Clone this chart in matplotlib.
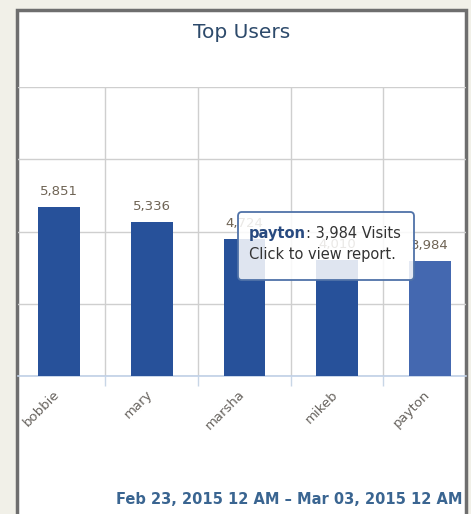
import matplotlib.pyplot as plt
from matplotlib.patches import Rectangle, FancyBboxPatch

# datos
usuarios = ['bobbie', 'mary', 'marsha', 'mikeb', 'payton']
visitas = [5851, 5336, 4724, 4010, 3984]
etiquetas = ['5,851', '5,336', '4,724', '4,010', '3,984']
ticks_y = [0, 2500, 5000, 7500, 10000]

W, H = 471, 514
fig = plt.figure(figsize=(W / 100, H / 100), dpi=100)
fig.patch.set_facecolor('#f1f0e8')


def px(x, y):
    """pixeles (desde arriba a la izquierda) -> fraccion de figura"""
    return x / W, 1 - y / H


# panel blanco con borde
x0, y0 = px(17, 10)
panel = Rectangle((x0, -0.05), px(466, 0)[0] - x0, y0 + 0.05,
                  transform=fig.transFigure, facecolor='white',
                  edgecolor='#6e6e6e', lw=2.5, zorder=0)
fig.patches.append(panel)

# ejes
izq, arr = px(18, 87)
der, aba = px(466, 376)
ax = fig.add_axes([izq, aba, der - izq, arr - aba])
ax.set_facecolor('none')
ax.set_zorder(1)

pos = list(range(len(usuarios)))
colores = ['#27519a'] * 4 + ['#4468b0']
ax.bar(pos, visitas, width=0.45, color=colores, zorder=3)

ax.set_xlim(-0.442, 4.39)
ax.set_ylim(0, 10000)
ax.set_yticks(ticks_y)
ax.yaxis.grid(True, color='#cfcfcf', lw=1)
ax.set_xticks([p + 0.5 for p in pos[:-1]], minor=True)
ax.xaxis.grid(True, which='minor', color='#cfcfcf', lw=1)
ax.set_axisbelow(True)
ax.tick_params(axis='y', left=False, labelleft=False)
ax.tick_params(axis='x', which='major', bottom=False, labelbottom=False)
ax.tick_params(axis='x', which='minor', length=7, color='#c8d6e6', width=1)
for lado in ['top', 'left', 'right']:
    ax.spines[lado].set_visible(False)
ax.spines['bottom'].set_color('#c0d0e6')
ax.spines['bottom'].set_linewidth(1.2)

# etiquetas de datos
for p, v, t in zip(pos, visitas, etiquetas):
    ax.annotate(t, (p, v), xytext=(0, 9), textcoords='offset pixels',
                ha='center', va='bottom', fontsize=9.5, color='#6f6455',
                zorder=4)

# etiquetas de categoria rotadas
for p, u in zip(pos, usuarios):
    ax.annotate(u, (p, 0), xytext=(-6, -12), textcoords='offset pixels',
                ha='right', va='top', rotation=45, rotation_mode='anchor',
                fontsize=9.5, color='#66625d', annotation_clip=False)

# titulo y rango de fechas
fig.text(*px(242, 33), 'Top Users', ha='center', va='center',
         fontsize=14.5, color='#2d4a6b')
fig.text(*px(463, 499), 'Feb 23, 2015 12 AM \u2013 Mar 03, 2015 12 AM',
         ha='right', va='center', fontsize=10.5, fontweight='bold',
         color='#3a6591')

# tooltip
tx0, ty1 = px(238, 212)
tx1, ty0 = px(414, 280)
caja = FancyBboxPatch((tx0, ty0), tx1 - tx0, ty1 - ty0,
                      boxstyle='round,pad=0,rounding_size=0.008',
                      transform=fig.transFigure, facecolor='white',
                      alpha=0.86, edgecolor='none', zorder=10)
borde = FancyBboxPatch((tx0, ty0), tx1 - tx0, ty1 - ty0,
                       boxstyle='round,pad=0,rounding_size=0.008',
                       transform=fig.transFigure, facecolor='none',
                       edgecolor='#4f72a8', lw=1.3, zorder=11)
fig.patches.extend([caja, borde])

t1 = fig.text(*px(249, 238), usuarios[4], ha='left', va='baseline',
              fontsize=10.5, fontweight='bold', color='#284a80', zorder=12)
fig.canvas.draw()
bb = t1.get_window_extent()
fig.text(bb.x1 / W, px(0, 238)[1], ': ' + etiquetas[4] + ' Visits',
         ha='left', va='baseline', fontsize=10.5, color='#333333', zorder=12)
fig.text(*px(249, 259), 'Click to view report.', ha='left', va='baseline',
         fontsize=10.5, color='#333333', zorder=12)

fig.savefig('out.png', dpi=100)
